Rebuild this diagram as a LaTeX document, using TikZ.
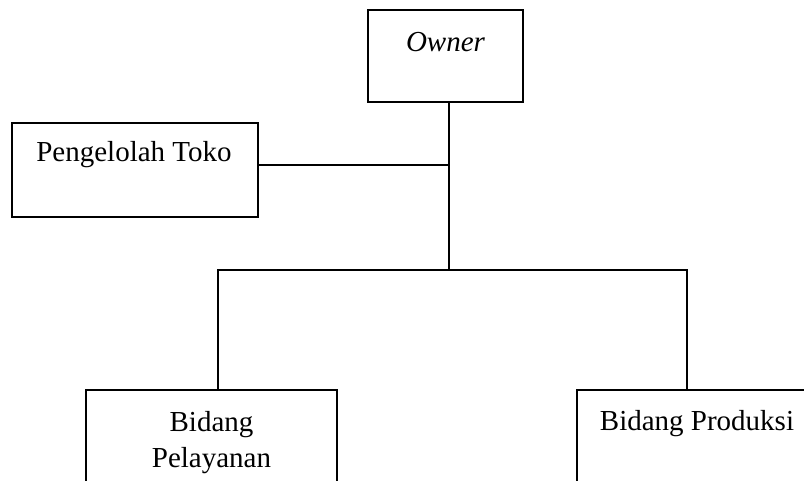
\documentclass[tikz,border=0pt]{standalone}
\usepackage{fontspec}
\setmainfont{Liberation Serif}
\begin{document}
\begin{tikzpicture}[x=1pt,y=-1pt,
  box/.style={draw=black,line width=1.4pt,fill=none},
  link/.style={draw=black,line width=1.4pt},
  lbl/.style={font=\fontsize{29}{36}\selectfont,inner sep=0pt,align=center}]
\useasboundingbox (0,0) rectangle (804,481);
% boxes
\draw[box] (368,10) rectangle (523,102);
\coordinate (owner) at (449,102);
\node[lbl,anchor=base] at (445.5,52) {\itshape Owner};
\draw[box] (12,123) rectangle (258,217);
\coordinate (peng) at (258,165);
\node[lbl,anchor=base] at (134,162) {Pengelolah Toko};
\draw[box] (86,481) -- (86,390) -- (337,390) -- (337,481);
\coordinate (pel) at (218,390);
\node[lbl,anchor=base] at (211.5,431) {Bidang};
\node[lbl,anchor=base] at (211.5,467) {Pelayanan};
\draw[box] (577,481) -- (577,390) -- (804,390);
\coordinate (prod) at (687,390);
\node[lbl,anchor=base] at (697,430) {Bidang Produksi};
% connectors
\coordinate (hub) at (449,165);
\coordinate (mid) at (449,270);
\draw[link] (owner) -- (mid);
\draw[link] (peng) -- (hub);
\draw[link] (pel) -- (218,270) -- (687,270) -- (prod);
\end{tikzpicture}
\end{document}
